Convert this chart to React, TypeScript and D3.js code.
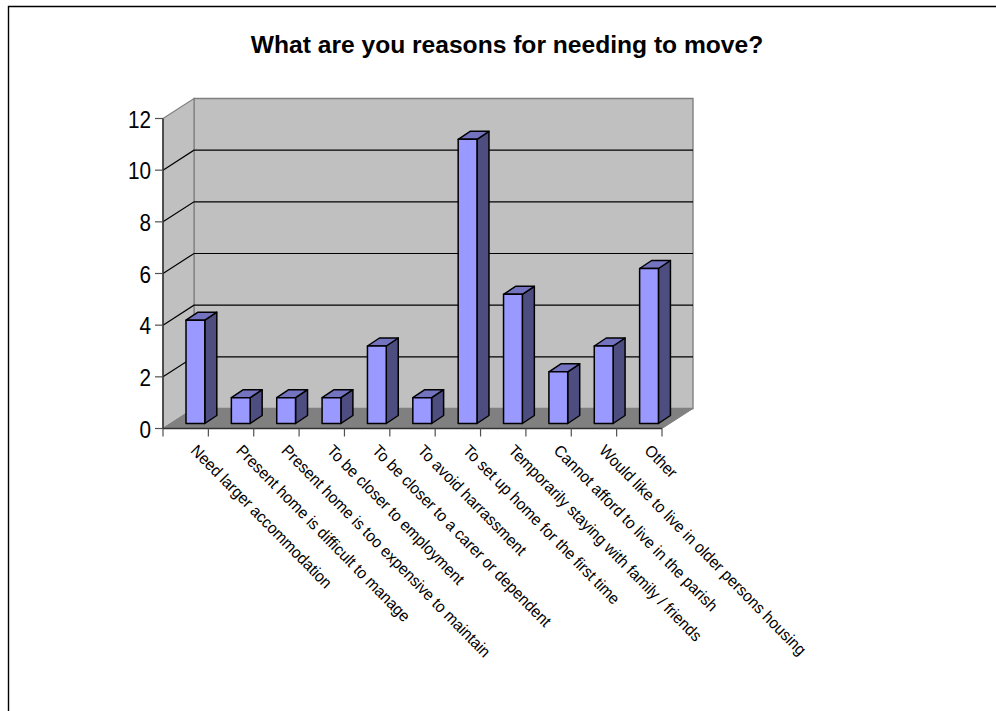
import React from "react";
import * as d3 from "d3";

const categories = [
  "Need larger accommodation",
  "Present home is difficult to manage",
  "Present home is too expensive to maintain",
  "To be closer to employment",
  "To be closer to a carer or dependent",
  "To avoid harrassment",
  "To set up home for the first time",
  "Temporarily staying with family / friends",
  "Cannot afford to live in the parish",
  "Would like to live in older persons housing",
  "Other",
];
const counts = [4, 1, 1, 1, 3, 1, 11, 5, 2, 3, 6];
const yTicks = [0, 2, 4, 6, 8, 10, 12];
const titleText = "What are you reasons for needing to move?";

const FONT = "'Liberation Sans', Arial, sans-serif";
const WIDTH = 996;
const HEIGHT = 711;

// Oblique projection: the back wall sits up and to the right of the front plane.
const DEPTH_X = 31;
const DEPTH_Y = 20;
const BAR_DX = 12;
const BAR_DY = 8;
const BAR_WIDTH = 18.8;
const BAR_LIFT = 5;
const BAR_OFFSET = 23;

export default function App() {
  const x = d3.scaleBand<number>().domain(d3.range(categories.length)).range([163, 662]);
  const y = d3.scaleLinear().domain([0, 12]).range([428.5, 118.5]);
  const x0 = x.range()[0];
  const x1 = x.range()[1];
  const y0 = y(0);
  const yTop = y(12);

  const poly = (pts: [number, number][]) => pts.map((p) => p.join(",")).join(" ");

  return (
    <svg
      width={WIDTH}
      height={HEIGHT}
      style={{ position: "absolute", left: 0, top: 0, background: "#fff" }}
      fontFamily={FONT}
    >
      {/* chart area frame, open on the right and at the bottom */}
      <path d={`M8.5 ${HEIGHT} V6.5 H${WIDTH}`} fill="none" stroke="#000" strokeWidth={1.4} />

      <text x={507} y={53} textAnchor="middle" fontSize={24.6} fontWeight="bold" fill="#000">
        {titleText}
      </text>

      {/* walls and floor */}
      <polygon
        points={poly([
          [x0 + DEPTH_X, yTop - DEPTH_Y],
          [x1 + DEPTH_X, yTop - DEPTH_Y],
          [x1 + DEPTH_X, y0 - DEPTH_Y],
          [x0 + DEPTH_X, y0 - DEPTH_Y],
        ])}
        fill="#c0c0c0"
        stroke="#808080"
        strokeWidth={1.4}
      />
      <polygon
        points={poly([
          [x0, yTop],
          [x0 + DEPTH_X, yTop - DEPTH_Y],
          [x0 + DEPTH_X, y0 - DEPTH_Y],
          [x0, y0],
        ])}
        fill="#c0c0c0"
        stroke="#808080"
        strokeWidth={1.2}
      />
      <polygon
        points={poly([
          [x0, y0],
          [x0 + DEPTH_X, y0 - DEPTH_Y],
          [x1 + DEPTH_X, y0 - DEPTH_Y],
          [x1, y0],
        ])}
        fill="#808080"
        stroke="#808080"
        strokeWidth={1}
      />

      {/* gridlines run along the side wall and the back wall */}
      {yTicks
        .filter((t) => t > 0 && t < 12)
        .map((t) => (
          <polyline
            key={t}
            points={poly([
              [x0, y(t)],
              [x0 + DEPTH_X, y(t) - DEPTH_Y],
              [x1 + DEPTH_X, y(t) - DEPTH_Y],
            ])}
            fill="none"
            stroke="#000"
            strokeWidth={1.2}
          />
        ))}

      {/* value axis */}
      <line x1={x0} x2={x0} y1={yTop} y2={y0} stroke="#303030" strokeWidth={1.5} />
      {yTicks.map((t) => (
        <g key={t}>
          <line x1={x0 - 8} x2={x0} y1={y(t)} y2={y(t)} stroke="#505050" strokeWidth={1.2} />
          <text
            transform={`translate(151,${y(t) + 9}) scale(0.9,1)`}
            textAnchor="end"
            fontSize={23}
            fill="#000"
          >
            {t}
          </text>
        </g>
      ))}

      {/* category axis */}
      <line x1={x0} x2={x1} y1={y0} y2={y0} stroke="#303030" strokeWidth={1.4} />
      {d3.range(categories.length + 1).map((i) => {
        const tx = x0 + i * x.step();
        return <line key={i} x1={tx} x2={tx} y1={y0} y2={y0 + 8} stroke="#505050" strokeWidth={1.2} />;
      })}
      {categories.map((c, i) => {
        const lx = (x(i) as number) + x.bandwidth() - 18.5;
        return (
          <text
            key={c}
            transform={`translate(${lx},451.5) rotate(45.5) scale(0.945,1)`}
            fontSize={16.3}
            fill="#000"
          >
            {c}
          </text>
        );
      })}

      {/* bars: side face, top face, front face */}
      {counts.map((v, i) => {
        const left = (x(i) as number) + BAR_OFFSET;
        const right = left + BAR_WIDTH;
        const bottom = y0 - BAR_LIFT;
        const top = bottom - (y0 - y(v));
        return (
          <g key={i} stroke="#000" strokeWidth={1.5} strokeLinejoin="round">
            <polygon
              points={poly([
                [right, top],
                [right + BAR_DX, top - BAR_DY],
                [right + BAR_DX, bottom - BAR_DY],
                [right, bottom],
              ])}
              fill="#4d4d80"
            />
            <polygon
              points={poly([
                [left, top],
                [left + BAR_DX, top - BAR_DY],
                [right + BAR_DX, top - BAR_DY],
                [right, top],
              ])}
              fill="#7373bf"
            />
            <rect x={left} y={top} width={BAR_WIDTH} height={bottom - top} fill="#9999ff" />
          </g>
        );
      })}
    </svg>
  );
}
